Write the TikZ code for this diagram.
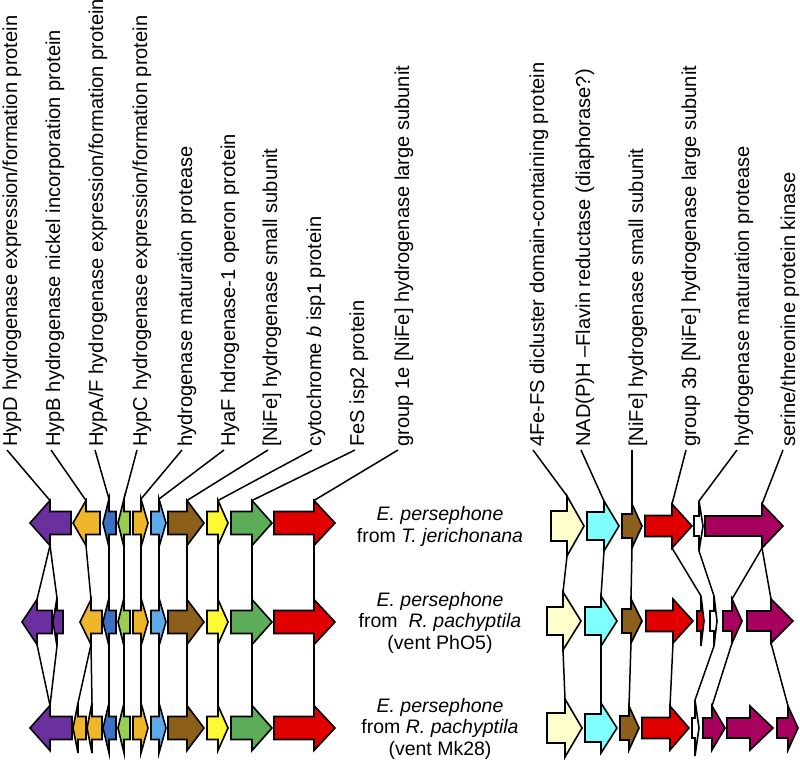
\documentclass[tikz,border=0pt]{standalone}
\usepackage{fontspec}
\setmainfont{Liberation Sans}
\definecolor{cpurple}{RGB}{107,47,160}
\definecolor{corange}{RGB}{240,182,42}
\definecolor{cblue}{RGB}{60,112,196}
\definecolor{clgreen}{RGB}{156,204,82}
\definecolor{clblue}{RGB}{92,172,236}
\definecolor{cbrown}{RGB}{140,96,26}
\definecolor{cyellow}{RGB}{255,250,50}
\definecolor{cgreen}{RGB}{92,172,88}
\definecolor{cred}{RGB}{224,0,0}
\definecolor{ccream}{RGB}{255,255,204}
\definecolor{ccyan}{RGB}{128,255,255}
\definecolor{cmag}{RGB}{168,0,94}
\tikzset{
  gene/.style={draw=black,line width=1.6pt,line join=miter},
  conn/.style={draw=black,line width=1.5pt},
  lbl/.style={rotate=90,anchor=base west,inner sep=0pt,font=\fontsize{20.1}{22}\selectfont},
  sp/.style={align=center,inner sep=0pt,font=\fontsize{19.5}{21.5}\selectfont}
}
% \gn{name}{tail}{headbase}{tip}{cy}{shaft half}{head half}{colour}
\newcommand{\gn}[8]{%
  \draw[gene,fill=#8] (#2,{#5-#6}) -- (#3,{#5-#6}) -- (#3,{#5-#7}) -- (#4,#5) -- (#3,{#5+#7}) -- (#3,{#5+#6}) -- (#2,{#5+#6}) -- cycle;
  \coordinate (#1t) at (#3,{#5-#7});
  \coordinate (#1b) at (#3,{#5+#7});}
\begin{document}
\begin{tikzpicture}[x=1pt,y=-1pt]
\useasboundingbox (0,0) rectangle (800,764);
% ---------- left cluster, row 1 ----------
\gn{pa}{71}{50}{30}{523}{11.5}{22.5}{cpurple}
\gn{ba}{100}{86}{73}{523}{11.5}{22.5}{corange}
\gn{aa}{116}{109}{103}{523}{11.5}{24}{cblue}
\gn{ca}{130}{124}{118}{523}{11.5}{24}{clgreen}
\gn{ma}{133}{141}{148}{523}{11.5}{24}{corange}
\gn{fa}{151}{159}{166}{523}{11.5}{24}{clblue}
\gn{sa}{168}{187}{204}{523}{11.5}{22.5}{cbrown}
\gn{ya}{207}{218}{228}{523}{11.5}{22.5}{cyellow}
\gn{ga}{231}{252}{272}{523}{11.5}{22.5}{cgreen}
\gn{ra}{274}{314}{335}{523}{11.5}{22.5}{cred}
% ---------- left cluster, row 2 ----------
\gn{pb}{52}{37}{22}{622}{11.5}{22.5}{cpurple}
\gn{qb}{63}{57}{53}{622}{11.5}{24}{cpurple}
\gn{bb}{102}{91}{80}{622}{11.5}{22.5}{corange}
\gn{ab}{116}{109}{103}{622}{11.5}{24}{cblue}
\gn{cb}{130}{124}{118}{622}{11.5}{24}{clgreen}
\gn{mb}{133}{141}{148}{622}{11.5}{24}{corange}
\gn{fb}{151}{159}{166}{622}{11.5}{24}{clblue}
\gn{sb}{168}{187}{204}{622}{11.5}{22.5}{cbrown}
\gn{yb}{207}{218}{228}{622}{11.5}{22.5}{cyellow}
\gn{gb}{231}{252}{272}{622}{11.5}{22.5}{cgreen}
\gn{rb}{274}{314}{335}{622}{11.5}{22.5}{cred}
% ---------- left cluster, row 3 ----------
\gn{pc}{72}{50}{30}{728}{11.5}{22.5}{cpurple}
\gn{bc}{86}{78}{73}{728}{11.5}{25}{corange}
\gn{oc}{102}{92}{87}{728}{11.5}{25}{corange}
\gn{ac}{116}{109}{103}{728}{11.5}{25}{cblue}
\gn{cc}{130}{124}{118}{728}{11.5}{25}{clgreen}
\gn{mc}{133}{141}{148}{728}{11.5}{25}{corange}
\gn{fc}{151}{159}{166}{728}{11.5}{25}{clblue}
\gn{sc}{168}{187}{204}{728}{11.5}{22.5}{cbrown}
\gn{yc}{207}{218}{228}{728}{11.5}{22.5}{cyellow}
\gn{gc}{231}{252}{272}{728}{11.5}{22.5}{cgreen}
\gn{rc}{274}{314}{335}{728}{11.5}{22.5}{cred}
% ---------- right cluster, row 1 ----------
\gn{ea}{551}{567}{584}{526}{15}{30}{ccream}
\gn{na}{587}{604}{619}{526}{14}{25}{ccyan}
\gn{ka}{622}{632}{642}{526}{12}{22}{cbrown}
\gn{xa}{645}{672}{692}{526}{10.5}{22}{cred}
\gn{wa}{694}{699}{703}{526}{10}{25}{white}
\gn{za}{705}{762}{783}{526}{10}{22}{cmag}
% ---------- right cluster, row 2 ----------
\gn{eb}{547}{563}{581}{621}{14}{29}{ccream}
\gn{nb}{585}{601}{617}{621}{14}{25}{ccyan}
\gn{kb}{622}{631}{642}{621}{12}{22}{cbrown}
\gn{xb}{646}{673}{693}{621}{10.5}{22}{cred}
\gn{tb}{697}{701}{704}{621}{10}{25}{cred}
\gn{wb}{710}{714}{717}{621}{10}{25}{white}
\gn{vb}{723}{732}{742}{621}{10}{22}{cmag}
\gn{zb}{747}{771}{793}{621}{10}{22}{cmag}
% ---------- right cluster, row 3 ----------
\gn{ec}{547}{565}{582}{728}{15}{29}{ccream}
\gn{nc}{585}{601}{617}{728}{14}{25}{ccyan}
\gn{kc}{620}{629}{639}{728}{12}{22}{cbrown}
\gn{xc}{642}{670}{689}{728}{10.5}{22}{cred}
\gn{wc}{692}{695}{699}{728}{10}{28}{white}
\gn{vc}{703}{712}{725}{728}{10}{22}{cmag}
\gn{zc}{727}{750}{773}{728}{10}{22}{cmag}
\gn{uc}{777}{788}{798}{728}{10}{22}{cmag}
% ---------- connectors between rows ----------
\foreach \g in {a,c,m,f,s,y,g,r}{\draw[conn] (\g ab) -- (\g bt); \draw[conn] (\g bb) -- (\g ct);}
\draw[conn] (pab) -- (pbt);
\draw[conn] (pab) -- (qbt);
\draw[conn] (bab) -- (bbt);
\draw[conn] (pbb) -- (pct);
\draw[conn] (qbb) -- (pct);
\draw[conn] (bbb) -- (bct);
\draw[conn] (bbb) -- (oct);
\draw[conn] (eab) -- (ebt);
\draw[conn] (nab) -- (nbt);
\draw[conn] (kab) -- (kbt);
\draw[conn] (xab) -- (tbt);
\draw[conn] (wab) -- (wbt);
\draw[conn] (zab) -- (vbt);
\draw[conn] (zab) -- (zbt);
\draw[conn] (ebb) -- (ect);
\draw[conn] (nbb) -- (nct);
\draw[conn] (kbb) -- (kct);
\draw[conn] (xbb) -- (xct);
\draw[conn] (wbb) -- (wct);
\draw[conn] (vbb) -- (vct);
\draw[conn] (zbb) -- (uct);
% ---------- left labels ----------
\node[lbl] (L1) at (17,447) {HypD hydrogenase expression/formation protein};
\node[lbl] (L2) at (60,447) {HypB hydrogenase nickel incorporation protein};
\node[lbl] (L3) at (103,447) {HypA/F hydrogenase expression/formation protein};
\node[lbl] (L4) at (147,447) {HypC hydrogenase expression/formation protein};
\node[lbl] (L5) at (192,447) {hydrogenase maturation protease};
\node[lbl] (L6) at (235,447) {HyaF hdrogenase-1 operon protein};
\node[lbl] (L7) at (277,447) {[NiFe] hydrogenase small subunit};
\node[lbl] (L8) at (321,447) {cytochrome \textit{b} isp1 protein};
\node[lbl] (L9) at (364,447) {FeS isp2 protein};
\node[lbl] (L10) at (409,447) {group 1e [NiFe] hydrogenase large subunit};
\coordinate (L1e) at (7,450);
\coordinate (L2e) at (51,450);
\coordinate (L3e) at (95,450);
\coordinate (L4e) at (137,450);
\coordinate (L5e) at (182,450);
\coordinate (L6e) at (224,450);
\coordinate (L7e) at (268,450);
\coordinate (L8e) at (312,450);
\coordinate (L9e) at (355,450);
\coordinate (L10e) at (398,450);
\draw[conn] (L1e) -- (pat);
\draw[conn] (L2e) -- (bat);
\draw[conn] (L3e) -- (aat);
\draw[conn] (L4e) -- (cat);
\draw[conn] (L5e) -- (mat);
\draw[conn] (L6e) -- (fat);
\draw[conn] (L7e) -- (sat);
\draw[conn] (L8e) -- (yat);
\draw[conn] (L9e) -- (gat);
\draw[conn] (L10e) -- (rat);
% ---------- right labels ----------
\node[lbl] (R1) at (544,447) {4Fe-FS dicluster domain-containing protein};
\node[lbl] (R2) at (590,447) {NAD(P)H –Flavin reductase (diaphorase?)};
\node[lbl] (R3) at (643,447) {[NiFe] hydrogenase small subunit};
\node[lbl] (R4) at (696,447) {group 3b [NiFe] hydrogenase large subunit};
\node[lbl] (R5) at (749,447) {hydrogenase maturation protease};
\node[lbl] (R6) at (795,447) {serine/threonine protein kinase};
\coordinate (R1e) at (533,450);
\coordinate (R2e) at (581,450);
\coordinate (R3e) at (632,450);
\coordinate (R4e) at (686,450);
\coordinate (R5e) at (737,450);
\coordinate (R6e) at (783,450);
\draw[conn] (R1e) -- (eat);
\draw[conn] (R2e) -- (nat);
\draw[conn] (R3e) -- (kat);
\draw[conn] (R4e) -- (xat);
\draw[conn] (R5e) -- (wat);
\draw[conn] (R6e) -- (zat);
% ---------- strain names ----------
\node[sp] (S1) at (440,526.5) {\textit{E. persephone}\\from \textit{T. jerichonana}};
\node[sp] (S2) at (440,622.5) {\textit{E. persephone}\\from\ \ \textit{R. pachyptila}\\(vent PhO5)};
\node[sp] (S3) at (440,728.5) {\textit{E. persephone}\\from \textit{R. pachyptila}\\(vent Mk28)};
\end{tikzpicture}
\end{document}
